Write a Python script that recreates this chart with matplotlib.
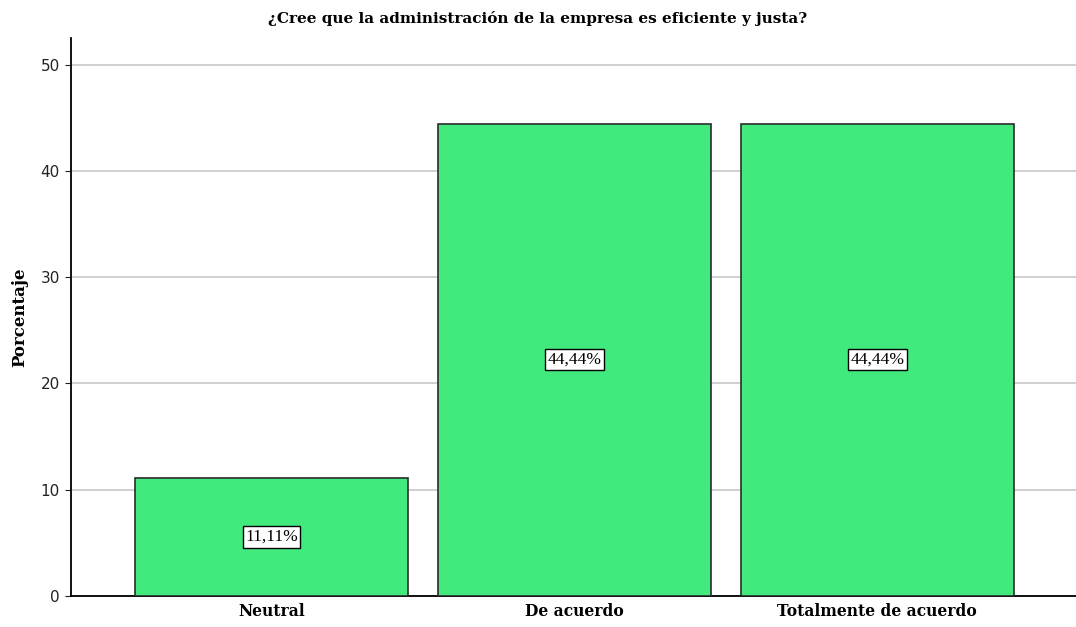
import matplotlib.pyplot as plt

categorias = ["Neutral", "De acuerdo", "Totalmente de acuerdo"]
porcentajes = [11.11, 44.44, 44.44]
etiquetas = ["11,11%", "44,44%", "44,44%"]
yticks = [0, 10, 20, 30, 40, 50]

fig = plt.figure(figsize=(10.76, 6.27), dpi=100)
ax = fig.add_axes([71/1076, 31/627, 1 - 71/1076, 558/627])

x = range(len(categorias))
ax.bar(x, porcentajes, width=0.9, color="#42ea7e", edgecolor="#2b2b2b", linewidth=1.2, zorder=3)

for xi, v, lab in zip(x, porcentajes, etiquetas):
    ax.text(xi, v / 2, lab, ha="center", va="center", fontsize=12.5,
            family="Liberation Serif", zorder=4,
            bbox=dict(boxstyle="square,pad=0.15", fc="white", ec="black", lw=1))

ax.set_xlim(-0.662, 2.656)
ax.set_ylim(0, 52.5)
ax.set_yticks(yticks)
ax.set_yticklabels([str(t) for t in yticks], family="Liberation Sans Narrow", fontsize=11)
ax.yaxis.grid(True, color="#c8c8c8", linewidth=1.2, zorder=0)
ax.set_xticks(list(x))
ax.set_xticklabels(categorias, family="DejaVu Serif", fontweight="bold", fontsize=11.2)
ax.tick_params(axis="x", length=0, pad=5)
ax.tick_params(axis="y", length=4, pad=4, colors="#222222")

for s in ["top", "right"]:
    ax.spines[s].set_visible(False)
ax.spines["left"].set_linewidth(1.3)
ax.spines["bottom"].set_linewidth(1.3)

ax.set_ylabel("Porcentaje", family="DejaVu Serif", fontweight="bold", fontsize=12, labelpad=9)
fig.text(0.5, 0.971, "¿Cree que la administración de la empresa es eficiente y justa?",
         ha="center", va="center", family="DejaVu Serif", fontweight="bold", fontsize=11)

fig.savefig("out.png", dpi=100)
